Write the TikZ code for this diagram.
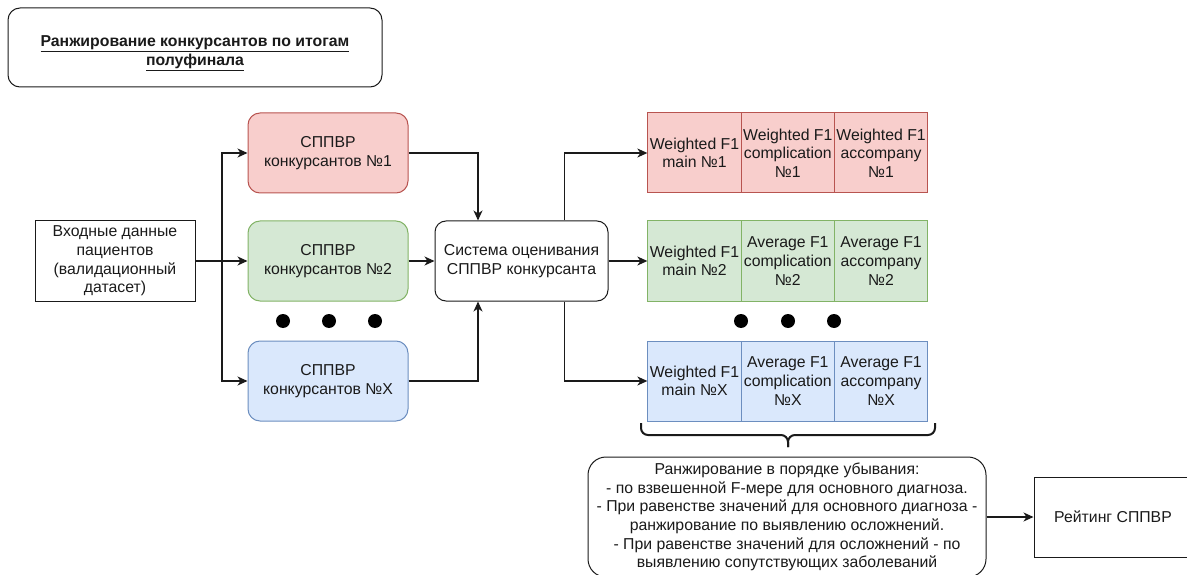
\documentclass[tikz,border=0pt]{standalone}
\usepackage{fontspec}
\setmainfont{Liberation Sans}
\usetikzlibrary{arrows.meta,calc}
\definecolor{redfill}{HTML}{F8CECC}
\definecolor{redline}{HTML}{B85450}
\definecolor{greenfill}{HTML}{D5E8D4}
\definecolor{greenline}{HTML}{82B366}
\definecolor{bluefill}{HTML}{DAE8FC}
\definecolor{blueline}{HTML}{6C8EBF}
\definecolor{ink}{HTML}{1A1A1A}
\begin{document}
\begin{tikzpicture}[x=1pt,y=-1pt,
  base/.style={font=\fontsize{15.8}{18.7}\selectfont, align=center, inner sep=0pt, line width=1pt, text=ink},
  plainbox/.style={base, draw=ink, minimum width=160pt, minimum height=80pt},
  sbox/.style={base, rounded corners=12pt, minimum width=160pt, minimum height=80pt},
  redbox/.style={sbox, fill=redfill, draw=redline},
  greenbox/.style={sbox, fill=greenfill, draw=greenline},
  bluebox/.style={sbox, fill=bluefill, draw=blueline},
  cell/.style={base, minimum width=93.3pt, minimum height=80pt},
  redcell/.style={cell, fill=redfill, draw=redline},
  greencell/.style={cell, fill=greenfill, draw=greenline},
  bluecell/.style={cell, fill=bluefill, draw=blueline},
  arr/.style={-{Stealth[length=10pt,width=9pt,inset=3pt]}, line width=1.1pt, draw=ink},
  dotn/.style={circle, fill=black, minimum size=14pt, inner sep=0pt},
]
\path[use as bounding box] (0,0) rectangle (1187,575);
\clip (0,0) rectangle (1187,575);

% title
\node[base, draw=ink, rounded corners=12pt, minimum width=374pt, minimum height=79pt] (title) at (195,47.5) {};
\node[base, font=\fontsize{15.8}{18.5}\selectfont\bfseries] (titletext) at (195,53)
  {\underline{Ранжирование конкурсантов по итогам}\\\underline{полуфинала}};

% input
\node[plainbox] (in) at (115,261) {Входные данные\\пациентов\\(валидационный\\датасет)};

% participant systems
\node[redbox] (b1) at (328,153) {СППВР\\конкурсантов №1};
\node[greenbox] (b2) at (328,261) {СППВР\\конкурсантов №2};
\node[bluebox] (bX) at (328,381) {СППВР\\конкурсантов №X};

\node[dotn] (d1) at (283,321) {};
\node[dotn] (d2) at (329,321) {};
\node[dotn] (d3) at (375,321) {};

% evaluation system
\node[base, draw=ink, rounded corners=11pt, minimum width=173pt, minimum height=80pt] (sys) at (521.5,261)
  {Система оценивания\\СППВР конкурсанта};

% result rows
\node[redcell] (r1a) at (694.5,153) {Weighted F1\\main №1};
\node[redcell] (r1b) at (787.8,153) {Weighted F1\\complication\\№1};
\node[redcell] (r1c) at (881.1,153) {Weighted F1\\accompany\\№1};

\node[greencell] (r2a) at (694.5,261) {Weighted F1\\main №2};
\node[greencell] (r2b) at (787.8,261) {Average F1\\complication\\№2};
\node[greencell] (r2c) at (881.1,261) {Average F1\\accompany\\№2};

\node[bluecell] (rXa) at (694.5,381) {Weighted F1\\main №X};
\node[bluecell] (rXb) at (787.8,381) {Average F1\\complication\\№X};
\node[bluecell] (rXc) at (881.1,381) {Average F1\\accompany\\№X};

\node[dotn] (d4) at (741,321) {};
\node[dotn] (d5) at (788,321) {};
\node[dotn] (d6) at (834,321) {};

% brace
\draw[line width=2pt, draw=ink, rounded corners=7pt] (641,423) -- (641,435) -- (788,435) -- (788,447);
\draw[line width=2pt, draw=ink, rounded corners=7pt] (935,423) -- (935,435) -- (788,435) -- (788,447);

% ranking
\node[base, draw=ink, rounded corners=18pt, minimum width=398pt, minimum height=120pt] (rank) at (787,517)
  {Ранжирование в порядке убывания:\\
   - по взвешенной F-мере для основного диагноза.\\
   - При равенстве значений для основного диагноза -\\
   ранжирование по выявлению осложнений.\\
   - При равенстве значений для осложнений - по\\
   выявлению сопутствующих заболеваний};

\node[base, draw=ink, minimum width=158pt, minimum height=80pt] (rate) at (1113,517) {Рейтинг СППВР};

% connectors
\coordinate (j1) at (222,261);
\draw[arr] (in.east) -- (b2.west);
\draw[arr] (j1) |- (b1.west);
\draw[arr] (j1) |- (bX.west);

\draw[arr] (b1.east) -| ($(sys.north west)!0.25!(sys.north east)$);
\draw[arr] (b2.east) -- (sys.west);
\draw[arr] (bX.east) -| ($(sys.south west)!0.25!(sys.south east)$);

\draw[arr] ($(sys.north west)!0.746!(sys.north east)$) |- (r1a.west);
\draw[arr] (sys.east) -- (r2a.west);
\draw[arr] ($(sys.south west)!0.746!(sys.south east)$) |- (rXa.west);

\draw[arr] (rank.east) -- (rate.west);
\end{tikzpicture}
\end{document}
